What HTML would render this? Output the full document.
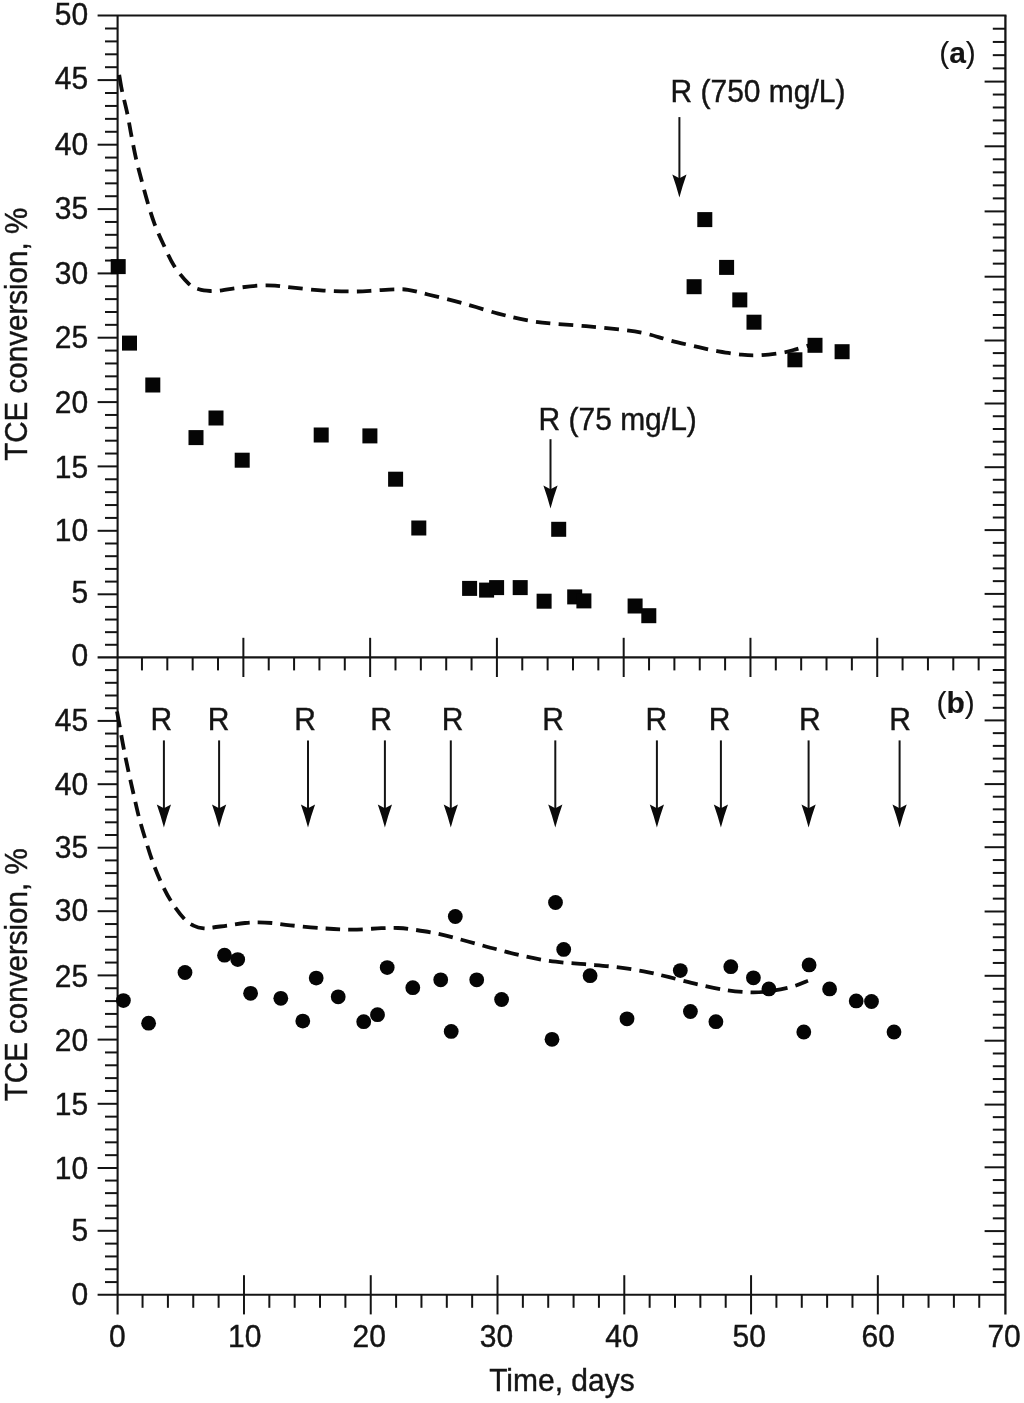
<!DOCTYPE html>
<html lang="en">
<head>
<meta charset="utf-8">
<title>TCE conversion vs time</title>
<style>
html,body{margin:0;padding:0;background:#fff;}
body{width:1024px;height:1403px;overflow:hidden;}
svg{display:block;}
</style>
</head>
<body>
<svg width="1024" height="1403" viewBox="0 0 1024 1403">
<rect width="1024" height="1403" fill="#fff"/>
<g stroke="#141414" fill="none" stroke-linecap="butt">
<line x1="97.60" y1="15.50" x2="1006.45" y2="15.50" stroke-width="2.1"/>
<line x1="97.60" y1="657.40" x2="1005.40" y2="657.40" stroke-width="2.1"/>
<line x1="97.60" y1="1294.80" x2="1005.40" y2="1294.80" stroke-width="2.1"/>
<line x1="117.60" y1="15.50" x2="117.60" y2="1314.40" stroke-width="2.1"/>
<line x1="1005.40" y1="15.50" x2="1005.40" y2="1314.40" stroke-width="2.3000000000000003"/>
<line x1="105.00" y1="644.78" x2="117.60" y2="644.78" stroke-width="2.0"/>
<line x1="992.80" y1="644.70" x2="1005.40" y2="644.70" stroke-width="2.0"/>
<line x1="105.00" y1="632.16" x2="117.60" y2="632.16" stroke-width="2.0"/>
<line x1="992.80" y1="632.00" x2="1005.40" y2="632.00" stroke-width="2.0"/>
<line x1="105.00" y1="619.54" x2="117.60" y2="619.54" stroke-width="2.0"/>
<line x1="992.80" y1="619.30" x2="1005.40" y2="619.30" stroke-width="2.0"/>
<line x1="105.00" y1="606.92" x2="117.60" y2="606.92" stroke-width="2.0"/>
<line x1="992.80" y1="606.60" x2="1005.40" y2="606.60" stroke-width="2.0"/>
<line x1="97.60" y1="594.30" x2="117.60" y2="594.30" stroke-width="2.0"/>
<line x1="984.60" y1="593.90" x2="1005.40" y2="593.90" stroke-width="2.0"/>
<line x1="105.00" y1="581.60" x2="117.60" y2="581.60" stroke-width="2.0"/>
<line x1="992.80" y1="581.14" x2="1005.40" y2="581.14" stroke-width="2.0"/>
<line x1="105.00" y1="568.90" x2="117.60" y2="568.90" stroke-width="2.0"/>
<line x1="992.80" y1="568.38" x2="1005.40" y2="568.38" stroke-width="2.0"/>
<line x1="105.00" y1="556.20" x2="117.60" y2="556.20" stroke-width="2.0"/>
<line x1="992.80" y1="555.62" x2="1005.40" y2="555.62" stroke-width="2.0"/>
<line x1="105.00" y1="543.50" x2="117.60" y2="543.50" stroke-width="2.0"/>
<line x1="992.80" y1="542.86" x2="1005.40" y2="542.86" stroke-width="2.0"/>
<line x1="97.60" y1="530.80" x2="117.60" y2="530.80" stroke-width="2.0"/>
<line x1="984.60" y1="530.10" x2="1005.40" y2="530.10" stroke-width="2.0"/>
<line x1="105.00" y1="517.92" x2="117.60" y2="517.92" stroke-width="2.0"/>
<line x1="992.80" y1="517.52" x2="1005.40" y2="517.52" stroke-width="2.0"/>
<line x1="105.00" y1="505.04" x2="117.60" y2="505.04" stroke-width="2.0"/>
<line x1="992.80" y1="504.94" x2="1005.40" y2="504.94" stroke-width="2.0"/>
<line x1="105.00" y1="492.16" x2="117.60" y2="492.16" stroke-width="2.0"/>
<line x1="992.80" y1="492.36" x2="1005.40" y2="492.36" stroke-width="2.0"/>
<line x1="105.00" y1="479.28" x2="117.60" y2="479.28" stroke-width="2.0"/>
<line x1="992.80" y1="479.78" x2="1005.40" y2="479.78" stroke-width="2.0"/>
<line x1="97.60" y1="466.40" x2="117.60" y2="466.40" stroke-width="2.0"/>
<line x1="984.60" y1="467.20" x2="1005.40" y2="467.20" stroke-width="2.0"/>
<line x1="105.00" y1="453.54" x2="117.60" y2="453.54" stroke-width="2.0"/>
<line x1="992.80" y1="454.46" x2="1005.40" y2="454.46" stroke-width="2.0"/>
<line x1="105.00" y1="440.68" x2="117.60" y2="440.68" stroke-width="2.0"/>
<line x1="992.80" y1="441.72" x2="1005.40" y2="441.72" stroke-width="2.0"/>
<line x1="105.00" y1="427.82" x2="117.60" y2="427.82" stroke-width="2.0"/>
<line x1="992.80" y1="428.98" x2="1005.40" y2="428.98" stroke-width="2.0"/>
<line x1="105.00" y1="414.96" x2="117.60" y2="414.96" stroke-width="2.0"/>
<line x1="992.80" y1="416.24" x2="1005.40" y2="416.24" stroke-width="2.0"/>
<line x1="97.60" y1="402.10" x2="117.60" y2="402.10" stroke-width="2.0"/>
<line x1="984.60" y1="403.50" x2="1005.40" y2="403.50" stroke-width="2.0"/>
<line x1="105.00" y1="389.22" x2="117.60" y2="389.22" stroke-width="2.0"/>
<line x1="992.80" y1="390.90" x2="1005.40" y2="390.90" stroke-width="2.0"/>
<line x1="105.00" y1="376.34" x2="117.60" y2="376.34" stroke-width="2.0"/>
<line x1="992.80" y1="378.30" x2="1005.40" y2="378.30" stroke-width="2.0"/>
<line x1="105.00" y1="363.46" x2="117.60" y2="363.46" stroke-width="2.0"/>
<line x1="992.80" y1="365.70" x2="1005.40" y2="365.70" stroke-width="2.0"/>
<line x1="105.00" y1="350.58" x2="117.60" y2="350.58" stroke-width="2.0"/>
<line x1="992.80" y1="353.10" x2="1005.40" y2="353.10" stroke-width="2.0"/>
<line x1="97.60" y1="337.70" x2="117.60" y2="337.70" stroke-width="2.0"/>
<line x1="984.60" y1="340.50" x2="1005.40" y2="340.50" stroke-width="2.0"/>
<line x1="105.00" y1="324.84" x2="117.60" y2="324.84" stroke-width="2.0"/>
<line x1="992.80" y1="327.74" x2="1005.40" y2="327.74" stroke-width="2.0"/>
<line x1="105.00" y1="311.98" x2="117.60" y2="311.98" stroke-width="2.0"/>
<line x1="992.80" y1="314.98" x2="1005.40" y2="314.98" stroke-width="2.0"/>
<line x1="105.00" y1="299.12" x2="117.60" y2="299.12" stroke-width="2.0"/>
<line x1="992.80" y1="302.22" x2="1005.40" y2="302.22" stroke-width="2.0"/>
<line x1="105.00" y1="286.26" x2="117.60" y2="286.26" stroke-width="2.0"/>
<line x1="992.80" y1="289.46" x2="1005.40" y2="289.46" stroke-width="2.0"/>
<line x1="97.60" y1="273.40" x2="117.60" y2="273.40" stroke-width="2.0"/>
<line x1="984.60" y1="276.70" x2="1005.40" y2="276.70" stroke-width="2.0"/>
<line x1="105.00" y1="260.54" x2="117.60" y2="260.54" stroke-width="2.0"/>
<line x1="992.80" y1="263.64" x2="1005.40" y2="263.64" stroke-width="2.0"/>
<line x1="105.00" y1="247.68" x2="117.60" y2="247.68" stroke-width="2.0"/>
<line x1="992.80" y1="250.58" x2="1005.40" y2="250.58" stroke-width="2.0"/>
<line x1="105.00" y1="234.82" x2="117.60" y2="234.82" stroke-width="2.0"/>
<line x1="992.80" y1="237.52" x2="1005.40" y2="237.52" stroke-width="2.0"/>
<line x1="105.00" y1="221.96" x2="117.60" y2="221.96" stroke-width="2.0"/>
<line x1="992.80" y1="224.46" x2="1005.40" y2="224.46" stroke-width="2.0"/>
<line x1="97.60" y1="209.10" x2="117.60" y2="209.10" stroke-width="2.0"/>
<line x1="984.60" y1="211.40" x2="1005.40" y2="211.40" stroke-width="2.0"/>
<line x1="105.00" y1="196.22" x2="117.60" y2="196.22" stroke-width="2.0"/>
<line x1="992.80" y1="198.38" x2="1005.40" y2="198.38" stroke-width="2.0"/>
<line x1="105.00" y1="183.34" x2="117.60" y2="183.34" stroke-width="2.0"/>
<line x1="992.80" y1="185.36" x2="1005.40" y2="185.36" stroke-width="2.0"/>
<line x1="105.00" y1="170.46" x2="117.60" y2="170.46" stroke-width="2.0"/>
<line x1="992.80" y1="172.34" x2="1005.40" y2="172.34" stroke-width="2.0"/>
<line x1="105.00" y1="157.58" x2="117.60" y2="157.58" stroke-width="2.0"/>
<line x1="992.80" y1="159.32" x2="1005.40" y2="159.32" stroke-width="2.0"/>
<line x1="97.60" y1="144.70" x2="117.60" y2="144.70" stroke-width="2.0"/>
<line x1="984.60" y1="146.30" x2="1005.40" y2="146.30" stroke-width="2.0"/>
<line x1="105.00" y1="131.78" x2="117.60" y2="131.78" stroke-width="2.0"/>
<line x1="992.80" y1="133.36" x2="1005.40" y2="133.36" stroke-width="2.0"/>
<line x1="105.00" y1="118.86" x2="117.60" y2="118.86" stroke-width="2.0"/>
<line x1="992.80" y1="120.42" x2="1005.40" y2="120.42" stroke-width="2.0"/>
<line x1="105.00" y1="105.94" x2="117.60" y2="105.94" stroke-width="2.0"/>
<line x1="992.80" y1="107.48" x2="1005.40" y2="107.48" stroke-width="2.0"/>
<line x1="105.00" y1="93.02" x2="117.60" y2="93.02" stroke-width="2.0"/>
<line x1="992.80" y1="94.54" x2="1005.40" y2="94.54" stroke-width="2.0"/>
<line x1="97.60" y1="80.10" x2="117.60" y2="80.10" stroke-width="2.0"/>
<line x1="984.60" y1="81.60" x2="1005.40" y2="81.60" stroke-width="2.0"/>
<line x1="105.00" y1="67.20" x2="117.60" y2="67.20" stroke-width="2.0"/>
<line x1="992.80" y1="68.38" x2="1005.40" y2="68.38" stroke-width="2.0"/>
<line x1="105.00" y1="54.30" x2="117.60" y2="54.30" stroke-width="2.0"/>
<line x1="992.80" y1="55.16" x2="1005.40" y2="55.16" stroke-width="2.0"/>
<line x1="105.00" y1="41.40" x2="117.60" y2="41.40" stroke-width="2.0"/>
<line x1="992.80" y1="41.94" x2="1005.40" y2="41.94" stroke-width="2.0"/>
<line x1="105.00" y1="28.50" x2="117.60" y2="28.50" stroke-width="2.0"/>
<line x1="992.80" y1="28.72" x2="1005.40" y2="28.72" stroke-width="2.0"/>
<line x1="105.00" y1="1282.08" x2="117.60" y2="1282.08" stroke-width="2.0"/>
<line x1="992.80" y1="1282.06" x2="1005.40" y2="1282.06" stroke-width="2.0"/>
<line x1="105.00" y1="1269.26" x2="117.60" y2="1269.26" stroke-width="2.0"/>
<line x1="992.80" y1="1269.32" x2="1005.40" y2="1269.32" stroke-width="2.0"/>
<line x1="105.00" y1="1256.44" x2="117.60" y2="1256.44" stroke-width="2.0"/>
<line x1="992.80" y1="1256.58" x2="1005.40" y2="1256.58" stroke-width="2.0"/>
<line x1="105.00" y1="1243.62" x2="117.60" y2="1243.62" stroke-width="2.0"/>
<line x1="992.80" y1="1243.84" x2="1005.40" y2="1243.84" stroke-width="2.0"/>
<line x1="97.60" y1="1230.80" x2="117.60" y2="1230.80" stroke-width="2.0"/>
<line x1="984.60" y1="1231.10" x2="1005.40" y2="1231.10" stroke-width="2.0"/>
<line x1="105.00" y1="1218.24" x2="117.60" y2="1218.24" stroke-width="2.0"/>
<line x1="992.80" y1="1218.34" x2="1005.40" y2="1218.34" stroke-width="2.0"/>
<line x1="105.00" y1="1205.68" x2="117.60" y2="1205.68" stroke-width="2.0"/>
<line x1="992.80" y1="1205.58" x2="1005.40" y2="1205.58" stroke-width="2.0"/>
<line x1="105.00" y1="1193.12" x2="117.60" y2="1193.12" stroke-width="2.0"/>
<line x1="992.80" y1="1192.82" x2="1005.40" y2="1192.82" stroke-width="2.0"/>
<line x1="105.00" y1="1180.56" x2="117.60" y2="1180.56" stroke-width="2.0"/>
<line x1="992.80" y1="1180.06" x2="1005.40" y2="1180.06" stroke-width="2.0"/>
<line x1="97.60" y1="1168.00" x2="117.60" y2="1168.00" stroke-width="2.0"/>
<line x1="984.60" y1="1167.30" x2="1005.40" y2="1167.30" stroke-width="2.0"/>
<line x1="105.00" y1="1155.16" x2="117.60" y2="1155.16" stroke-width="2.0"/>
<line x1="992.80" y1="1154.76" x2="1005.40" y2="1154.76" stroke-width="2.0"/>
<line x1="105.00" y1="1142.32" x2="117.60" y2="1142.32" stroke-width="2.0"/>
<line x1="992.80" y1="1142.22" x2="1005.40" y2="1142.22" stroke-width="2.0"/>
<line x1="105.00" y1="1129.48" x2="117.60" y2="1129.48" stroke-width="2.0"/>
<line x1="992.80" y1="1129.68" x2="1005.40" y2="1129.68" stroke-width="2.0"/>
<line x1="105.00" y1="1116.64" x2="117.60" y2="1116.64" stroke-width="2.0"/>
<line x1="992.80" y1="1117.14" x2="1005.40" y2="1117.14" stroke-width="2.0"/>
<line x1="97.60" y1="1103.80" x2="117.60" y2="1103.80" stroke-width="2.0"/>
<line x1="984.60" y1="1104.60" x2="1005.40" y2="1104.60" stroke-width="2.0"/>
<line x1="105.00" y1="1090.96" x2="117.60" y2="1090.96" stroke-width="2.0"/>
<line x1="992.80" y1="1091.82" x2="1005.40" y2="1091.82" stroke-width="2.0"/>
<line x1="105.00" y1="1078.12" x2="117.60" y2="1078.12" stroke-width="2.0"/>
<line x1="992.80" y1="1079.04" x2="1005.40" y2="1079.04" stroke-width="2.0"/>
<line x1="105.00" y1="1065.28" x2="117.60" y2="1065.28" stroke-width="2.0"/>
<line x1="992.80" y1="1066.26" x2="1005.40" y2="1066.26" stroke-width="2.0"/>
<line x1="105.00" y1="1052.44" x2="117.60" y2="1052.44" stroke-width="2.0"/>
<line x1="992.80" y1="1053.48" x2="1005.40" y2="1053.48" stroke-width="2.0"/>
<line x1="97.60" y1="1039.60" x2="117.60" y2="1039.60" stroke-width="2.0"/>
<line x1="984.60" y1="1040.70" x2="1005.40" y2="1040.70" stroke-width="2.0"/>
<line x1="105.00" y1="1026.76" x2="117.60" y2="1026.76" stroke-width="2.0"/>
<line x1="992.80" y1="1027.72" x2="1005.40" y2="1027.72" stroke-width="2.0"/>
<line x1="105.00" y1="1013.92" x2="117.60" y2="1013.92" stroke-width="2.0"/>
<line x1="992.80" y1="1014.74" x2="1005.40" y2="1014.74" stroke-width="2.0"/>
<line x1="105.00" y1="1001.08" x2="117.60" y2="1001.08" stroke-width="2.0"/>
<line x1="992.80" y1="1001.76" x2="1005.40" y2="1001.76" stroke-width="2.0"/>
<line x1="105.00" y1="988.24" x2="117.60" y2="988.24" stroke-width="2.0"/>
<line x1="992.80" y1="988.78" x2="1005.40" y2="988.78" stroke-width="2.0"/>
<line x1="97.60" y1="975.40" x2="117.60" y2="975.40" stroke-width="2.0"/>
<line x1="984.60" y1="975.80" x2="1005.40" y2="975.80" stroke-width="2.0"/>
<line x1="105.00" y1="962.56" x2="117.60" y2="962.56" stroke-width="2.0"/>
<line x1="992.80" y1="962.94" x2="1005.40" y2="962.94" stroke-width="2.0"/>
<line x1="105.00" y1="949.72" x2="117.60" y2="949.72" stroke-width="2.0"/>
<line x1="992.80" y1="950.08" x2="1005.40" y2="950.08" stroke-width="2.0"/>
<line x1="105.00" y1="936.88" x2="117.60" y2="936.88" stroke-width="2.0"/>
<line x1="992.80" y1="937.22" x2="1005.40" y2="937.22" stroke-width="2.0"/>
<line x1="105.00" y1="924.04" x2="117.60" y2="924.04" stroke-width="2.0"/>
<line x1="992.80" y1="924.36" x2="1005.40" y2="924.36" stroke-width="2.0"/>
<line x1="97.60" y1="911.20" x2="117.60" y2="911.20" stroke-width="2.0"/>
<line x1="984.60" y1="911.50" x2="1005.40" y2="911.50" stroke-width="2.0"/>
<line x1="105.00" y1="898.50" x2="117.60" y2="898.50" stroke-width="2.0"/>
<line x1="992.80" y1="898.64" x2="1005.40" y2="898.64" stroke-width="2.0"/>
<line x1="105.00" y1="885.80" x2="117.60" y2="885.80" stroke-width="2.0"/>
<line x1="992.80" y1="885.78" x2="1005.40" y2="885.78" stroke-width="2.0"/>
<line x1="105.00" y1="873.10" x2="117.60" y2="873.10" stroke-width="2.0"/>
<line x1="992.80" y1="872.92" x2="1005.40" y2="872.92" stroke-width="2.0"/>
<line x1="105.00" y1="860.40" x2="117.60" y2="860.40" stroke-width="2.0"/>
<line x1="992.80" y1="860.06" x2="1005.40" y2="860.06" stroke-width="2.0"/>
<line x1="97.60" y1="847.70" x2="117.60" y2="847.70" stroke-width="2.0"/>
<line x1="984.60" y1="847.20" x2="1005.40" y2="847.20" stroke-width="2.0"/>
<line x1="105.00" y1="835.00" x2="117.60" y2="835.00" stroke-width="2.0"/>
<line x1="992.80" y1="834.58" x2="1005.40" y2="834.58" stroke-width="2.0"/>
<line x1="105.00" y1="822.30" x2="117.60" y2="822.30" stroke-width="2.0"/>
<line x1="992.80" y1="821.96" x2="1005.40" y2="821.96" stroke-width="2.0"/>
<line x1="105.00" y1="809.60" x2="117.60" y2="809.60" stroke-width="2.0"/>
<line x1="992.80" y1="809.34" x2="1005.40" y2="809.34" stroke-width="2.0"/>
<line x1="105.00" y1="796.90" x2="117.60" y2="796.90" stroke-width="2.0"/>
<line x1="992.80" y1="796.72" x2="1005.40" y2="796.72" stroke-width="2.0"/>
<line x1="97.60" y1="784.20" x2="117.60" y2="784.20" stroke-width="2.0"/>
<line x1="984.60" y1="784.10" x2="1005.40" y2="784.10" stroke-width="2.0"/>
<line x1="105.00" y1="771.54" x2="117.60" y2="771.54" stroke-width="2.0"/>
<line x1="992.80" y1="771.36" x2="1005.40" y2="771.36" stroke-width="2.0"/>
<line x1="105.00" y1="758.88" x2="117.60" y2="758.88" stroke-width="2.0"/>
<line x1="992.80" y1="758.62" x2="1005.40" y2="758.62" stroke-width="2.0"/>
<line x1="105.00" y1="746.22" x2="117.60" y2="746.22" stroke-width="2.0"/>
<line x1="992.80" y1="745.88" x2="1005.40" y2="745.88" stroke-width="2.0"/>
<line x1="105.00" y1="733.56" x2="117.60" y2="733.56" stroke-width="2.0"/>
<line x1="992.80" y1="733.14" x2="1005.40" y2="733.14" stroke-width="2.0"/>
<line x1="97.60" y1="720.90" x2="117.60" y2="720.90" stroke-width="2.0"/>
<line x1="984.60" y1="720.40" x2="1005.40" y2="720.40" stroke-width="2.0"/>
<line x1="105.00" y1="708.20" x2="117.60" y2="708.20" stroke-width="2.0"/>
<line x1="992.80" y1="707.80" x2="1005.40" y2="707.80" stroke-width="2.0"/>
<line x1="105.00" y1="695.50" x2="117.60" y2="695.50" stroke-width="2.0"/>
<line x1="992.80" y1="695.20" x2="1005.40" y2="695.20" stroke-width="2.0"/>
<line x1="105.00" y1="682.80" x2="117.60" y2="682.80" stroke-width="2.0"/>
<line x1="992.80" y1="682.60" x2="1005.40" y2="682.60" stroke-width="2.0"/>
<line x1="105.00" y1="670.10" x2="117.60" y2="670.10" stroke-width="2.0"/>
<line x1="992.80" y1="670.00" x2="1005.40" y2="670.00" stroke-width="2.0"/>
<line x1="141.95" y1="657.40" x2="141.95" y2="670.40" stroke-width="2.0"/>
<line x1="142.55" y1="1294.80" x2="142.55" y2="1307.80" stroke-width="2.0"/>
<line x1="167.31" y1="657.40" x2="167.31" y2="670.40" stroke-width="2.0"/>
<line x1="167.91" y1="1294.80" x2="167.91" y2="1307.80" stroke-width="2.0"/>
<line x1="192.66" y1="657.40" x2="192.66" y2="670.40" stroke-width="2.0"/>
<line x1="193.26" y1="1294.80" x2="193.26" y2="1307.80" stroke-width="2.0"/>
<line x1="218.02" y1="657.40" x2="218.02" y2="670.40" stroke-width="2.0"/>
<line x1="218.62" y1="1294.80" x2="218.62" y2="1307.80" stroke-width="2.0"/>
<line x1="243.37" y1="637.80" x2="243.37" y2="677.00" stroke-width="2.0"/>
<line x1="243.97" y1="1275.20" x2="243.97" y2="1314.40" stroke-width="2.0"/>
<line x1="268.73" y1="657.40" x2="268.73" y2="670.40" stroke-width="2.0"/>
<line x1="269.33" y1="1294.80" x2="269.33" y2="1307.80" stroke-width="2.0"/>
<line x1="294.08" y1="657.40" x2="294.08" y2="670.40" stroke-width="2.0"/>
<line x1="294.68" y1="1294.80" x2="294.68" y2="1307.80" stroke-width="2.0"/>
<line x1="319.43" y1="657.40" x2="319.43" y2="670.40" stroke-width="2.0"/>
<line x1="320.03" y1="1294.80" x2="320.03" y2="1307.80" stroke-width="2.0"/>
<line x1="344.79" y1="657.40" x2="344.79" y2="670.40" stroke-width="2.0"/>
<line x1="345.39" y1="1294.80" x2="345.39" y2="1307.80" stroke-width="2.0"/>
<line x1="370.14" y1="637.80" x2="370.14" y2="677.00" stroke-width="2.0"/>
<line x1="370.74" y1="1275.20" x2="370.74" y2="1314.40" stroke-width="2.0"/>
<line x1="395.50" y1="657.40" x2="395.50" y2="670.40" stroke-width="2.0"/>
<line x1="396.10" y1="1294.80" x2="396.10" y2="1307.80" stroke-width="2.0"/>
<line x1="420.85" y1="657.40" x2="420.85" y2="670.40" stroke-width="2.0"/>
<line x1="421.45" y1="1294.80" x2="421.45" y2="1307.80" stroke-width="2.0"/>
<line x1="446.21" y1="657.40" x2="446.21" y2="670.40" stroke-width="2.0"/>
<line x1="446.81" y1="1294.80" x2="446.81" y2="1307.80" stroke-width="2.0"/>
<line x1="471.56" y1="657.40" x2="471.56" y2="670.40" stroke-width="2.0"/>
<line x1="472.16" y1="1294.80" x2="472.16" y2="1307.80" stroke-width="2.0"/>
<line x1="496.91" y1="637.80" x2="496.91" y2="677.00" stroke-width="2.0"/>
<line x1="497.51" y1="1275.20" x2="497.51" y2="1314.40" stroke-width="2.0"/>
<line x1="522.27" y1="657.40" x2="522.27" y2="670.40" stroke-width="2.0"/>
<line x1="522.87" y1="1294.80" x2="522.87" y2="1307.80" stroke-width="2.0"/>
<line x1="547.62" y1="657.40" x2="547.62" y2="670.40" stroke-width="2.0"/>
<line x1="548.22" y1="1294.80" x2="548.22" y2="1307.80" stroke-width="2.0"/>
<line x1="572.98" y1="657.40" x2="572.98" y2="670.40" stroke-width="2.0"/>
<line x1="573.58" y1="1294.80" x2="573.58" y2="1307.80" stroke-width="2.0"/>
<line x1="598.33" y1="657.40" x2="598.33" y2="670.40" stroke-width="2.0"/>
<line x1="598.93" y1="1294.80" x2="598.93" y2="1307.80" stroke-width="2.0"/>
<line x1="623.69" y1="637.80" x2="623.69" y2="677.00" stroke-width="2.0"/>
<line x1="624.29" y1="1275.20" x2="624.29" y2="1314.40" stroke-width="2.0"/>
<line x1="649.04" y1="657.40" x2="649.04" y2="670.40" stroke-width="2.0"/>
<line x1="649.64" y1="1294.80" x2="649.64" y2="1307.80" stroke-width="2.0"/>
<line x1="674.39" y1="657.40" x2="674.39" y2="670.40" stroke-width="2.0"/>
<line x1="674.99" y1="1294.80" x2="674.99" y2="1307.80" stroke-width="2.0"/>
<line x1="699.75" y1="657.40" x2="699.75" y2="670.40" stroke-width="2.0"/>
<line x1="700.35" y1="1294.80" x2="700.35" y2="1307.80" stroke-width="2.0"/>
<line x1="725.10" y1="657.40" x2="725.10" y2="670.40" stroke-width="2.0"/>
<line x1="725.70" y1="1294.80" x2="725.70" y2="1307.80" stroke-width="2.0"/>
<line x1="750.46" y1="637.80" x2="750.46" y2="677.00" stroke-width="2.0"/>
<line x1="751.06" y1="1275.20" x2="751.06" y2="1314.40" stroke-width="2.0"/>
<line x1="775.81" y1="657.40" x2="775.81" y2="670.40" stroke-width="2.0"/>
<line x1="776.41" y1="1294.80" x2="776.41" y2="1307.80" stroke-width="2.0"/>
<line x1="801.17" y1="657.40" x2="801.17" y2="670.40" stroke-width="2.0"/>
<line x1="801.77" y1="1294.80" x2="801.77" y2="1307.80" stroke-width="2.0"/>
<line x1="826.52" y1="657.40" x2="826.52" y2="670.40" stroke-width="2.0"/>
<line x1="827.12" y1="1294.80" x2="827.12" y2="1307.80" stroke-width="2.0"/>
<line x1="851.87" y1="657.40" x2="851.87" y2="670.40" stroke-width="2.0"/>
<line x1="852.47" y1="1294.80" x2="852.47" y2="1307.80" stroke-width="2.0"/>
<line x1="877.23" y1="637.80" x2="877.23" y2="677.00" stroke-width="2.0"/>
<line x1="877.83" y1="1275.20" x2="877.83" y2="1314.40" stroke-width="2.0"/>
<line x1="902.58" y1="657.40" x2="902.58" y2="670.40" stroke-width="2.0"/>
<line x1="903.18" y1="1294.80" x2="903.18" y2="1307.80" stroke-width="2.0"/>
<line x1="927.94" y1="657.40" x2="927.94" y2="670.40" stroke-width="2.0"/>
<line x1="928.54" y1="1294.80" x2="928.54" y2="1307.80" stroke-width="2.0"/>
<line x1="953.29" y1="657.40" x2="953.29" y2="670.40" stroke-width="2.0"/>
<line x1="953.89" y1="1294.80" x2="953.89" y2="1307.80" stroke-width="2.0"/>
<line x1="978.65" y1="657.40" x2="978.65" y2="670.40" stroke-width="2.0"/>
<line x1="979.25" y1="1294.80" x2="979.25" y2="1307.80" stroke-width="2.0"/>
</g>
<g stroke="#0c0c0c" fill="none" stroke-width="3.8">
<path d="M119.2 74.8 C119.7 77.6 120.8 85.2 122.2 91.7 C123.6 98.2 125.9 106.6 127.4 114.0 C129.0 121.4 130.0 128.6 131.5 136.2 C133.0 143.8 134.5 152.0 136.2 159.4 C137.9 166.8 139.8 173.4 141.7 180.7 C143.6 188.0 145.6 195.7 147.8 203.0 C150.0 210.3 152.1 217.4 154.7 224.3 C157.3 231.2 160.3 237.8 163.6 244.7 C166.8 251.6 170.0 259.5 174.2 266.0 C178.4 272.5 184.5 279.7 188.6 283.6 C192.7 287.5 195.4 288.1 199.0 289.3 C202.6 290.5 206.5 290.8 210.3 291.0 C214.1 291.2 217.8 290.8 222.0 290.3 C226.2 289.8 229.2 289.0 235.3 288.2 C241.4 287.4 251.9 286.0 258.5 285.6 C265.1 285.2 269.2 285.2 275.0 285.6 C280.8 286.0 284.9 286.9 293.0 287.7 C301.1 288.5 313.3 290.0 323.5 290.6 C333.7 291.2 345.4 291.5 354.0 291.5 C362.6 291.5 368.4 290.9 375.2 290.5 C382.0 290.1 389.5 289.5 395.0 289.4 C400.5 289.3 402.5 288.9 408.0 289.8 C413.5 290.7 418.7 292.2 427.9 294.5 C437.1 296.8 451.3 300.1 463.0 303.3 C474.7 306.5 487.6 310.8 498.2 313.6 C508.8 316.4 517.6 318.6 526.4 320.2 C535.2 321.8 541.0 322.5 551.0 323.5 C561.0 324.5 574.4 325.2 586.1 326.2 C597.8 327.2 611.3 328.5 621.3 329.7 C631.3 330.9 637.8 331.8 645.9 333.6 C654.0 335.4 661.2 338.1 670.0 340.4 C678.8 342.7 691.0 345.4 698.7 347.2 C706.4 348.9 709.1 349.6 716.2 350.9 C723.4 352.1 734.4 354.0 741.6 354.7 C748.8 355.4 752.6 355.5 759.4 355.2 C766.2 354.9 776.3 353.6 782.2 352.7 C788.1 351.8 790.5 350.8 794.9 349.6 C799.3 348.4 806.2 346.3 808.5 345.6" stroke-dasharray="17.3 8.42 14.6 8.42 14.6 8.42 14.6 8.42 14.6 8.42 14.6 8.42 14.6 8.42 14.6 8.42 14.6 8.42 14.6 8.42 14.6 8.3 14.6 8.3 14.6 8.3 14.6 8.3 14.6 8.3 14.6 8.3 14.6 8.3 14.6 8.3 14.6 8.3 14.6 8.3 14.6 8.3 14.6 8.3 14.6 8.3 14.6 8.3 14.6 8.3 14.6 8.3 14.6 8.3 14.6 8.3 14.6 8.3 14.6 8.3 14.6 8.3 14.6 8.3 14.6 8.3 14.6 8.3 14.6 8.3 14.6 8.3 14.6 8.3 14.6 8.3 14.6 8.3 14.6 8.3 14.6 8.3 14.6 8.3 14.6 8.3 14.6 8.3 14.6 8.3 14.6 8.3 14.6 8.3 14.6 8.3 14.6 8.3 14.6 8.3"/>
<path d="M117.0 711.5 C117.5 714.2 118.8 721.5 120.0 728.0 C121.2 734.5 122.6 742.9 124.1 750.3 C125.5 757.7 127.1 765.1 128.7 772.5 C130.3 779.9 132.0 787.3 133.7 794.7 C135.4 802.1 137.0 809.7 138.9 817.0 C140.8 824.3 142.9 831.2 145.1 838.3 C147.3 845.4 149.4 852.5 151.9 859.6 C154.4 866.7 157.2 873.7 160.3 880.6 C163.5 887.5 166.8 894.4 170.8 900.8 C174.8 907.2 180.6 914.9 184.4 919.0 C188.2 923.1 190.3 924.0 193.5 925.6 C196.7 927.2 200.5 928.1 203.8 928.4 C207.1 928.7 209.1 928.0 213.1 927.5 C217.1 927.0 222.6 926.1 227.9 925.4 C233.2 924.6 239.9 923.5 245.0 923.0 C250.1 922.5 253.7 922.3 258.2 922.3 C262.7 922.3 266.6 922.5 272.0 923.0 C277.4 923.5 281.9 924.4 290.4 925.3 C298.8 926.2 312.4 927.6 322.7 928.3 C333.0 929.0 342.2 929.6 352.0 929.6 C361.8 929.6 373.6 928.5 381.3 928.2 C389.0 927.9 392.9 927.8 398.0 928.0 C403.1 928.2 405.2 928.4 412.0 929.4 C418.8 930.4 429.3 931.8 438.6 933.8 C447.9 935.8 458.1 938.9 467.9 941.5 C477.7 944.1 487.4 946.9 497.2 949.4 C507.0 951.9 516.7 954.7 526.5 956.7 C536.3 958.8 546.0 960.5 555.8 961.7 C565.6 963.0 575.3 963.3 585.1 964.2 C594.9 965.1 604.6 965.7 614.4 966.9 C624.2 968.1 634.6 969.6 643.7 971.3 C652.9 973.0 660.1 975.0 669.3 977.2 C678.4 979.4 688.8 982.3 698.6 984.5 C708.4 986.7 719.1 989.1 727.9 990.4 C736.7 991.7 744.5 992.2 751.3 992.4 C758.1 992.5 762.0 992.3 768.9 991.3 C775.8 990.3 785.9 988.4 792.4 986.6 C798.9 984.9 805.4 981.8 808.0 980.8" stroke-dasharray="16.0 8.12 14.6 8.12 14.6 8.12 14.6 8.12 14.6 8.12 14.6 8.12 14.6 8.12 14.6 8.12 14.6 8.12 14.6 8.12 14.6 8.12 14.6 8.12 14.6 8.12 14.6 8.12 14.6 8.12 14.6 8.12 14.6 8.12 14.6 8.12 14.6 8.12 14.6 8.12 14.6 8.12 14.6 8.12 14.6 8.12 14.6 8.12 14.6 8.12 14.6 8.12 14.6 8.12 14.6 8.12 14.6 8.12 14.6 8.12 14.6 8.12 14.6 8.12 14.6 8.12 14.6 8.12 14.6 8.12 14.6 8.12 14.6 8.12 14.6 8.12 14.6 8.12 14.6 8.12 14.6 8.12 14.6 8.12 14.6 8.12 14.6 8.12 14.6 8.12 14.6 8.12 14.6 8.12 14.6 8.12 14.6 8.12"/>
</g>
<g fill="#050505">
<rect x="110.7" y="259.1" width="15.0" height="15.0"/>
<rect x="122.0" y="335.6" width="15.0" height="15.0"/>
<rect x="145.3" y="377.5" width="15.0" height="15.0"/>
<rect x="188.5" y="430.1" width="15.0" height="15.0"/>
<rect x="208.5" y="410.5" width="15.0" height="15.0"/>
<rect x="234.7" y="452.7" width="15.0" height="15.0"/>
<rect x="313.7" y="427.5" width="15.0" height="15.0"/>
<rect x="362.4" y="428.4" width="15.0" height="15.0"/>
<rect x="388.1" y="471.7" width="15.0" height="15.0"/>
<rect x="411.3" y="520.5" width="15.0" height="15.0"/>
<rect x="462.1" y="580.9" width="15.0" height="15.0"/>
<rect x="479.1" y="582.6" width="15.0" height="15.0"/>
<rect x="489.1" y="580.1" width="15.0" height="15.0"/>
<rect x="512.7" y="580.1" width="15.0" height="15.0"/>
<rect x="536.6" y="593.7" width="15.0" height="15.0"/>
<rect x="551.2" y="521.8" width="15.0" height="15.0"/>
<rect x="567.2" y="589.4" width="15.0" height="15.0"/>
<rect x="576.4" y="593.4" width="15.0" height="15.0"/>
<rect x="627.6" y="598.5" width="15.0" height="15.0"/>
<rect x="641.3" y="608.2" width="15.0" height="15.0"/>
<rect x="686.6" y="279.2" width="15.0" height="15.0"/>
<rect x="697.3" y="212.1" width="15.0" height="15.0"/>
<rect x="719.1" y="259.9" width="15.0" height="15.0"/>
<rect x="732.3" y="292.4" width="15.0" height="15.0"/>
<rect x="746.5" y="314.7" width="15.0" height="15.0"/>
<rect x="787.4" y="352.3" width="15.0" height="15.0"/>
<rect x="807.5" y="337.8" width="15.0" height="15.0"/>
<rect x="834.6" y="344.2" width="15.0" height="15.0"/>
<circle cx="123.4" cy="1000.6" r="7.4"/>
<circle cx="148.6" cy="1023.2" r="7.4"/>
<circle cx="185.0" cy="972.5" r="7.4"/>
<circle cx="224.5" cy="955.2" r="7.4"/>
<circle cx="237.7" cy="959.6" r="7.4"/>
<circle cx="250.6" cy="993.3" r="7.4"/>
<circle cx="280.8" cy="998.3" r="7.4"/>
<circle cx="302.8" cy="1021.1" r="7.4"/>
<circle cx="316.2" cy="978.1" r="7.4"/>
<circle cx="338.2" cy="996.8" r="7.4"/>
<circle cx="363.7" cy="1021.7" r="7.4"/>
<circle cx="377.5" cy="1014.7" r="7.4"/>
<circle cx="387.2" cy="967.6" r="7.4"/>
<circle cx="412.8" cy="987.7" r="7.4"/>
<circle cx="440.7" cy="979.8" r="7.4"/>
<circle cx="451.2" cy="1031.4" r="7.4"/>
<circle cx="455.3" cy="916.5" r="7.4"/>
<circle cx="476.7" cy="979.8" r="7.4"/>
<circle cx="501.6" cy="999.5" r="7.4"/>
<circle cx="552.0" cy="1039.3" r="7.4"/>
<circle cx="555.5" cy="902.5" r="7.4"/>
<circle cx="563.7" cy="949.4" r="7.4"/>
<circle cx="590.1" cy="975.7" r="7.4"/>
<circle cx="627.0" cy="1018.8" r="7.4"/>
<circle cx="680.3" cy="970.6" r="7.4"/>
<circle cx="690.4" cy="1011.5" r="7.4"/>
<circle cx="715.9" cy="1021.7" r="7.4"/>
<circle cx="730.8" cy="966.7" r="7.4"/>
<circle cx="753.4" cy="977.8" r="7.4"/>
<circle cx="768.9" cy="988.9" r="7.4"/>
<circle cx="803.8" cy="1032.0" r="7.4"/>
<circle cx="809.1" cy="964.9" r="7.4"/>
<circle cx="829.6" cy="988.9" r="7.4"/>
<circle cx="856.2" cy="1000.9" r="7.4"/>
<circle cx="871.5" cy="1001.5" r="7.4"/>
<circle cx="894.0" cy="1032.0" r="7.4"/>
</g>
<line x1="679.4" y1="117.1" x2="679.4" y2="185.4" stroke="#141414" stroke-width="2"/>
<path d="M679.4 197.4 Q676.2 185.4 672.3 174.4 L679.4 178.2 L686.5 174.4 Q682.6 185.4 679.4 197.4Z" fill="#0a0a0a"/>
<line x1="550.5" y1="439.2" x2="550.5" y2="496.4" stroke="#141414" stroke-width="2"/>
<path d="M550.5 508.4 Q547.3 496.4 543.4 485.4 L550.5 489.2 L557.6 485.4 Q553.7 496.4 550.5 508.4Z" fill="#0a0a0a"/>
<line x1="163.9" y1="740.4" x2="163.9" y2="815.4" stroke="#141414" stroke-width="2"/>
<path d="M163.9 827.4 Q160.7 815.4 156.8 804.4 L163.9 808.2 L171.0 804.4 Q167.1 815.4 163.9 827.4Z" fill="#0a0a0a"/>
<line x1="219.1" y1="740.4" x2="219.1" y2="815.4" stroke="#141414" stroke-width="2"/>
<path d="M219.1 827.4 Q215.9 815.4 212.0 804.4 L219.1 808.2 L226.2 804.4 Q222.3 815.4 219.1 827.4Z" fill="#0a0a0a"/>
<line x1="308.0" y1="740.4" x2="308.0" y2="815.4" stroke="#141414" stroke-width="2"/>
<path d="M308.0 827.4 Q304.8 815.4 300.9 804.4 L308.0 808.2 L315.1 804.4 Q311.2 815.4 308.0 827.4Z" fill="#0a0a0a"/>
<line x1="384.9" y1="740.4" x2="384.9" y2="815.4" stroke="#141414" stroke-width="2"/>
<path d="M384.9 827.4 Q381.7 815.4 377.8 804.4 L384.9 808.2 L392.0 804.4 Q388.1 815.4 384.9 827.4Z" fill="#0a0a0a"/>
<line x1="450.8" y1="740.4" x2="450.8" y2="815.4" stroke="#141414" stroke-width="2"/>
<path d="M450.8 827.4 Q447.6 815.4 443.7 804.4 L450.8 808.2 L457.9 804.4 Q454.0 815.4 450.8 827.4Z" fill="#0a0a0a"/>
<line x1="555.3" y1="740.4" x2="555.3" y2="815.4" stroke="#141414" stroke-width="2"/>
<path d="M555.3 827.4 Q552.1 815.4 548.2 804.4 L555.3 808.2 L562.4 804.4 Q558.5 815.4 555.3 827.4Z" fill="#0a0a0a"/>
<line x1="656.9" y1="740.4" x2="656.9" y2="815.4" stroke="#141414" stroke-width="2"/>
<path d="M656.9 827.4 Q653.7 815.4 649.8 804.4 L656.9 808.2 L664.0 804.4 Q660.1 815.4 656.9 827.4Z" fill="#0a0a0a"/>
<line x1="720.9" y1="740.4" x2="720.9" y2="815.4" stroke="#141414" stroke-width="2"/>
<path d="M720.9 827.4 Q717.7 815.4 713.8 804.4 L720.9 808.2 L728.0 804.4 Q724.1 815.4 720.9 827.4Z" fill="#0a0a0a"/>
<line x1="808.6" y1="740.4" x2="808.6" y2="815.4" stroke="#141414" stroke-width="2"/>
<path d="M808.6 827.4 Q805.4 815.4 801.5 804.4 L808.6 808.2 L815.7 804.4 Q811.8 815.4 808.6 827.4Z" fill="#0a0a0a"/>
<line x1="899.6" y1="740.4" x2="899.6" y2="815.4" stroke="#141414" stroke-width="2"/>
<path d="M899.6 827.4 Q896.4 815.4 892.5 804.4 L899.6 808.2 L906.7 804.4 Q902.8 815.4 899.6 827.4Z" fill="#0a0a0a"/>
<g fill="#141414" stroke="#141414" stroke-width="0.4" font-family="'Liberation Sans', Arial, Helvetica, sans-serif" font-size="30">
<text transform="translate(88.2 666.4) scale(1 1.025)" text-anchor="end">0</text>
<text transform="translate(88.2 603.4) scale(1 1.025)" text-anchor="end">5</text>
<text transform="translate(88.2 541.2) scale(1 1.025)" text-anchor="end">10</text>
<text transform="translate(88.2 477.7) scale(1 1.025)" text-anchor="end">15</text>
<text transform="translate(88.2 413.4) scale(1 1.025)" text-anchor="end">20</text>
<text transform="translate(88.2 348.0) scale(1 1.025)" text-anchor="end">25</text>
<text transform="translate(88.2 283.5) scale(1 1.025)" text-anchor="end">30</text>
<text transform="translate(88.2 219.3) scale(1 1.025)" text-anchor="end">35</text>
<text transform="translate(88.2 155.0) scale(1 1.025)" text-anchor="end">40</text>
<text transform="translate(88.2 88.5) scale(1 1.025)" text-anchor="end">45</text>
<text transform="translate(88.2 24.9) scale(1 1.025)" text-anchor="end">50</text>
<text transform="translate(88.2 1305.0) scale(1 1.025)" text-anchor="end">0</text>
<text transform="translate(88.2 1240.8) scale(1 1.025)" text-anchor="end">5</text>
<text transform="translate(88.2 1178.9) scale(1 1.025)" text-anchor="end">10</text>
<text transform="translate(88.2 1115.2) scale(1 1.025)" text-anchor="end">15</text>
<text transform="translate(88.2 1051.1) scale(1 1.025)" text-anchor="end">20</text>
<text transform="translate(88.2 987.3) scale(1 1.025)" text-anchor="end">25</text>
<text transform="translate(88.2 921.4) scale(1 1.025)" text-anchor="end">30</text>
<text transform="translate(88.2 858.0) scale(1 1.025)" text-anchor="end">35</text>
<text transform="translate(88.2 794.7) scale(1 1.025)" text-anchor="end">40</text>
<text transform="translate(88.2 731.3) scale(1 1.025)" text-anchor="end">45</text>
<text transform="translate(117.4 1346.7) scale(1 1.025)" text-anchor="middle">0</text>
<text transform="translate(244.7 1346.7) scale(1 1.025)" text-anchor="middle">10</text>
<text transform="translate(369.3 1346.7) scale(1 1.025)" text-anchor="middle">20</text>
<text transform="translate(496.5 1346.7) scale(1 1.025)" text-anchor="middle">30</text>
<text transform="translate(622.0 1346.7) scale(1 1.025)" text-anchor="middle">40</text>
<text transform="translate(749.2 1346.7) scale(1 1.025)" text-anchor="middle">50</text>
<text transform="translate(878.3 1346.7) scale(1 1.025)" text-anchor="middle">60</text>
<text transform="translate(1004.1 1346.7) scale(1 1.025)" text-anchor="middle">70</text>
<text transform="translate(561.9 1391.4) scale(1 1.025)" text-anchor="middle">Time, days</text>
<text transform="translate(26.6 334.3) rotate(-90) scale(0.986 1.025)" text-anchor="middle">TCE conversion, %</text>
<text transform="translate(26.8 974.8) rotate(-90) scale(0.986 1.025)" text-anchor="middle">TCE conversion, %</text>
<text transform="translate(670.5 102.0) scale(1 1.025)" text-anchor="start">R (750 mg/L)</text>
<text transform="translate(538.5 430.0) scale(1 1.025)" text-anchor="start">R (75 mg/L)</text>
<text transform="translate(161.3 729.6) scale(1 1.025)" text-anchor="middle">R</text>
<text transform="translate(218.5 729.6) scale(1 1.025)" text-anchor="middle">R</text>
<text transform="translate(305.1 729.6) scale(1 1.025)" text-anchor="middle">R</text>
<text transform="translate(381.2 729.6) scale(1 1.025)" text-anchor="middle">R</text>
<text transform="translate(452.5 729.6) scale(1 1.025)" text-anchor="middle">R</text>
<text transform="translate(553.2 729.6) scale(1 1.025)" text-anchor="middle">R</text>
<text transform="translate(656.4 729.6) scale(1 1.025)" text-anchor="middle">R</text>
<text transform="translate(719.7 729.6) scale(1 1.025)" text-anchor="middle">R</text>
<text transform="translate(809.8 729.6) scale(1 1.025)" text-anchor="middle">R</text>
<text transform="translate(900.1 729.6) scale(1 1.025)" text-anchor="middle">R</text>
<text transform="translate(957.5 63.2) scale(1 1.0)" text-anchor="middle" stroke-width="0.12">(<tspan font-weight="bold">a</tspan>)</text>
<text transform="translate(955.6 712.5) scale(1 1.0)" text-anchor="middle" stroke-width="0.12">(<tspan font-weight="bold">b</tspan>)</text>
</g>
</svg>
</body>
</html>
